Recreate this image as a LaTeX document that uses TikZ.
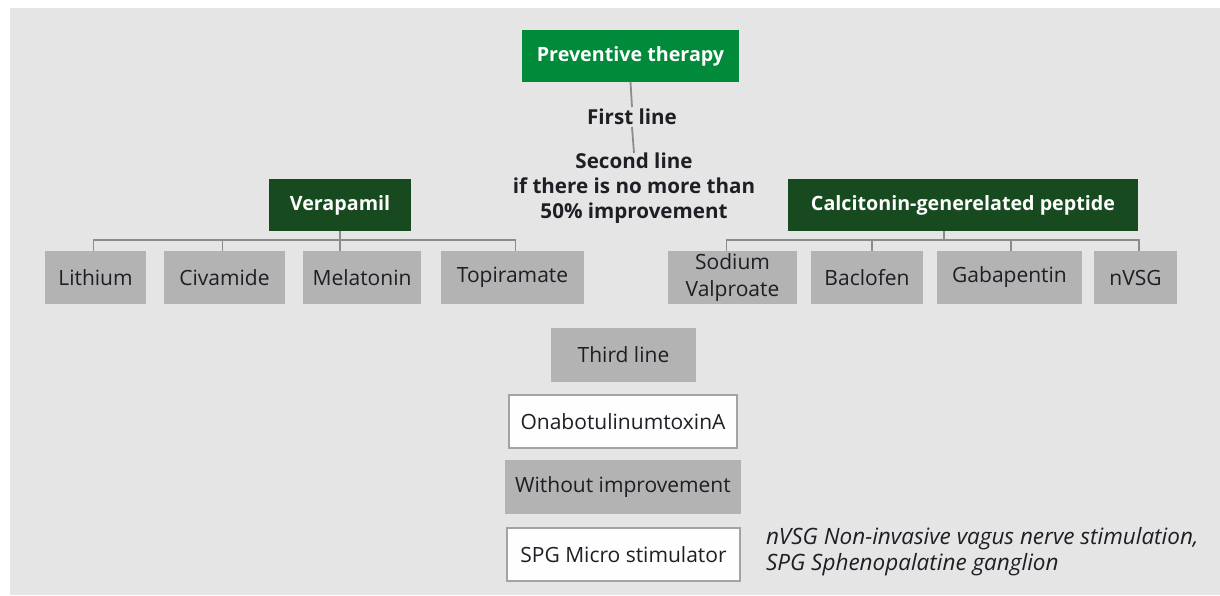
\documentclass[tikz,border=0pt]{standalone}
\usepackage{fontspec}
\setmainfont{Open Sans}
\usetikzlibrary{calc}
\definecolor{bg}{HTML}{E5E5E5}
\definecolor{topgreen}{HTML}{008A3A}
\definecolor{darkgreen}{HTML}{174A1E}
\definecolor{boxgray}{HTML}{B3B3B3}
\definecolor{linegray}{HTML}{8C8C8C}
\definecolor{ink}{HTML}{1E1E24}
\tikzset{
  base/.style={inner sep=0pt, outer sep=0pt, text=ink, font=\fontsize{21}{27}\selectfont},
  greenbox/.style={base, fill=topgreen, text=white, font=\fontsize{19.7}{25}\selectfont\bfseries},
  darkbox/.style={base, fill=darkgreen, text=white, font=\fontsize{19.7}{25}\selectfont\bfseries},
  graybox/.style={base, fill=boxgray, align=center},
  whitebox/.style={base, fill=white!96!bg, draw=linegray!80, line width=1.2pt},
  label/.style={base, align=center, font=\fontsize{20.6}{25}\selectfont\bfseries},
  conn/.style={draw=linegray, line width=1.8pt},
}
\begin{document}
\begin{tikzpicture}[x=1pt,y=-1pt]
\useasboundingbox (0,0) rectangle (1220,595);
\fill[bg] (10,8) rectangle (1220,595);

% top of the tree
\node[greenbox, minimum width=217, minimum height=52] (prev) at (630.5,56) {Preventive therapy};
\node[label, minimum height=20] (first) at (632,117) {First line};
\node[label, anchor=north] (second) at (634,153) {Second line\\if there is no more than\\50\% improvement};

% second-line branches
\node[darkbox, minimum width=142, minimum height=52] (vera) at (340,205) {Verapamil};
\node[darkbox, minimum width=350, minimum height=52] (cgrp) at (963,205) {Calcitonin-generelated peptide};

\node[graybox, minimum width=101, minimum height=53] (lith) at (95.5,277.5) {Lithium};
\node[graybox, minimum width=121, minimum height=53] (civ) at (224.5,277.5) {Civamide};
\node[graybox, minimum width=118, minimum height=53] (mel) at (362,277.5) {Melatonin};
\node[graybox, minimum width=143, minimum height=53] (topi) at (512.5,277.5) {Topiramate};

\node[graybox, minimum width=129, minimum height=53] (sod) at (732.5,277.5) {Sodium\\Valproate};
\node[graybox, minimum width=112, minimum height=53] (bac) at (867,277.5) {Baclofen};
\node[graybox, minimum width=145, minimum height=53] (gab) at (1009.5,277.5) {Gabapentin};
\node[graybox, minimum width=83, minimum height=53] (nvsg) at (1135.5,277.5) {nVSG};

% third line and beyond
\node[graybox, minimum width=145, minimum height=54] (third) at (623.5,355) {Third line};
\node[whitebox, minimum width=228, minimum height=53] (ona) at (623,421.5) {OnabotulinumtoxinA};
\node[graybox, minimum width=236, minimum height=54] (without) at (623,487) {Without improvement};
\node[whitebox, minimum width=233, minimum height=53] (spg) at (623.5,554.5) {SPG Micro stimulator};

\node[base, anchor=north west, align=left, font=\fontsize{22.5}{26}\selectfont\itshape] (note) at (766,527)
  {nVSG Non-invasive vagus nerve stimulation,\\SPG Sphenopalatine ganglion};

% connectors
\draw[conn] (prev.south) -- (first.north);
\draw[conn] (first.south) -- (second.north);

\draw[conn] ([xshift=-2pt]lith.north) -- ++(0,-11) -| ([xshift=3pt]topi.north);
\draw[conn] ([xshift=-2pt]civ.north) -- ++(0,-11);
\draw[conn] (vera.south) -- (vera.south |- mel.north);

\draw[conn] ([xshift=-6pt]sod.north) -- ++(0,-11) -| ([xshift=3.5pt]nvsg.north);
\draw[conn] ([xshift=5pt]bac.north) -- ++(0,-11);
\draw[conn] ([xshift=1.5pt]gab.north) -- ++(0,-11);
\draw[conn] ([xshift=-19pt]cgrp.south) -- ++(0,9);
\end{tikzpicture}
\end{document}
